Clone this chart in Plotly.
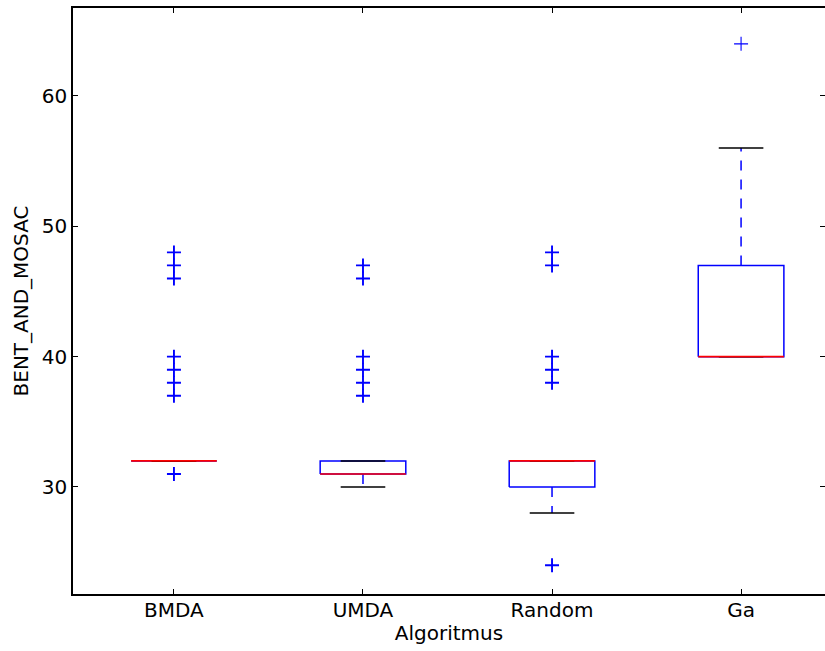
import plotly.graph_objects as go

# Summary statistics for each algorithm's box
algorithms = ["BMDA", "UMDA", "Random", "Ga"]
q1 = [32, 31, 30, 40]
median = [32, 31, 32, 40]
q3 = [32, 32, 32, 47]
whisker_low = [32, 30, 28, 40]
whisker_high = [32, 32, 32, 56]

# Outlying observations per algorithm
outliers = [
    [31, 37, 38, 39, 40, 46, 47, 48],
    [37, 38, 39, 40, 46, 47],
    [24, 38, 39, 40, 47, 48],
    [64],
]

y_ticks = [30, 40, 50, 60]

BOX_W = 0.453
CAP_W = 0.236
BLUE = "#0000ff"
RED = "#ff0000"
FONT = "DejaVu Sans"
TXT = dict(family=FONT, size=20, color="black")

fig = go.Figure()

for i, name in enumerate(algorithms):
    pos = i + 1
    left, right = pos - BOX_W / 2, pos + BOX_W / 2
    # box outline
    fig.add_trace(go.Scatter(
        x=[left, right, right, left, left],
        y=[q1[i], q1[i], q3[i], q3[i], q1[i]],
        mode="lines", line=dict(color=BLUE, width=1.5),
        hoverinfo="skip", showlegend=False))
    # dashed whiskers from the box to the caps
    for start, end in ((q3[i], whisker_high[i]), (q1[i], whisker_low[i])):
        fig.add_trace(go.Scatter(
            x=[pos, pos], y=[start, end], mode="lines",
            line=dict(color=BLUE, width=1.5, dash="10px,9px"),
            hoverinfo="skip", showlegend=False))
    # whisker caps
    for end in (whisker_high[i], whisker_low[i]):
        fig.add_trace(go.Scatter(
            x=[pos - CAP_W / 2, pos + CAP_W / 2], y=[end, end], mode="lines",
            line=dict(color="black", width=1.5),
            hoverinfo="skip", showlegend=False))
    # median
    fig.add_trace(go.Scatter(
        x=[left, right], y=[median[i], median[i]], mode="lines",
        line=dict(color=RED, width=1.6),
        hoverinfo="skip", showlegend=False))
    # outliers
    pts = outliers[i]
    fig.add_trace(go.Scatter(
        x=[pos] * len(pts), y=pts, mode="markers",
        marker=dict(symbol="cross-thin", size=10,
                    line=dict(color=BLUE, width=1.9 if len(pts) > 1 else 1.1)),
        hoverinfo="skip", showlegend=False))

X_RANGE = [0.466, 4.444]
Y_RANGE = [21.79, 66.75]

# helper traces so the mirrored tick axes are rendered
fig.add_trace(go.Scatter(x=[None], y=[None], xaxis="x2", yaxis="y2",
                         showlegend=False, hoverinfo="skip"))

fig.update_layout(
    width=825, height=651,
    margin=dict(l=73, r=0, t=8, b=57),
    paper_bgcolor="white", plot_bgcolor="white",
    font=TXT,
    xaxis=dict(
        range=X_RANGE, tickmode="array",
        tickvals=[i + 1 for i in range(len(algorithms))], ticktext=algorithms,
        ticks="inside", ticklen=5, tickwidth=1, tickcolor="black",
        showline=True, linecolor="black", linewidth=1.5, mirror="ticks",
        showgrid=False, zeroline=False, ticklabelstandoff=-3,
        title=dict(text="Algoritmus", standoff=5, font=TXT),
        tickfont=TXT,
    ),
    yaxis=dict(
        range=Y_RANGE, tickmode="array", tickvals=y_ticks,
        ticks="inside", ticklen=5, tickwidth=1, tickcolor="black",
        showline=True, linecolor="black", linewidth=1.5,
        showgrid=False, zeroline=False,
        title=dict(text="BENT_AND_MOSAC", standoff=8, font=TXT),
        tickfont=TXT,
    ),
    xaxis2=dict(overlaying="x", side="top", range=X_RANGE, visible=False),
    yaxis2=dict(
        overlaying="y", side="right", range=Y_RANGE, tickmode="array",
        tickvals=y_ticks, ticks="inside", ticklen=5, tickwidth=1,
        tickcolor="black", showticklabels=False, showline=False,
        showgrid=False, zeroline=False,
    ),
)

fig.write_html("out.html")
